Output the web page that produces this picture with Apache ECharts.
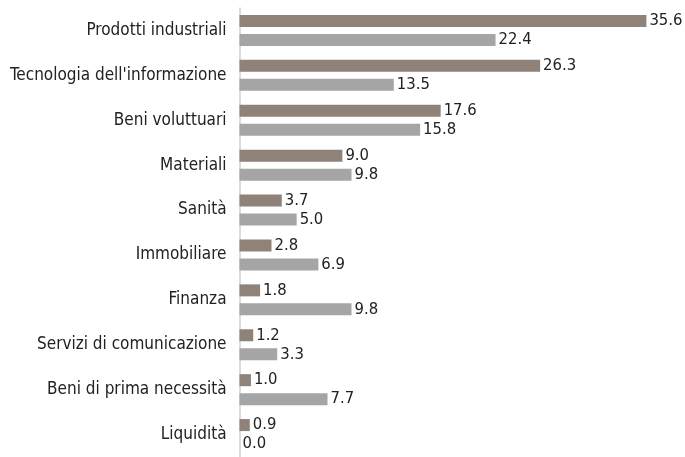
<!DOCTYPE html>
<html>
<head>
<meta charset="utf-8">
<script src="https://cdn.jsdelivr.net/npm/echarts@6/dist/echarts.min.js"></script>
<style>
html,body{margin:0;padding:0;background:#fff;}
#chart{width:685px;height:457px;}
</style>
</head>
<body>
<div id="chart"></div>
<script>
var categories = ["Prodotti industriali", "Tecnologia dell'informazione", "Beni voluttuari", "Materiali", "Sanità", "Immobiliare", "Finanza", "Servizi di comunicazione", "Beni di prima necessità", "Liquidità"];
var seriesA = [35.6, 26.3, 17.6, 9.0, 3.7, 2.8, 1.8, 1.2, 1.0, 0.9];
var seriesB = [22.4, 13.5, 15.8, 9.8, 5.0, 6.9, 9.8, 3.3, 7.7, 0.0];

var FONT = '"DejaVu Sans Condensed", "Liberation Sans Narrow", sans-serif';
var chart = echarts.init(document.getElementById('chart'), null, {renderer: 'canvas'});
function lbl() {
  return {
    show: true, position: 'right', distance: 3,
    fontFamily: FONT, fontSize: 16.5, color: '#222',
    formatter: function (p) { return Number(p.value).toFixed(1); }
  };
}
chart.setOption({
  animation: false,
  grid: {left: 239.5, top: 8, width: 411.5, height: 453, containLabel: false},
  xAxis: {
    type: 'value', min: 0, max: 36, show: false
  },
  yAxis: {
    type: 'category', data: categories, inverse: true,
    axisLine: {show: true, lineStyle: {color: '#d0d0d0', width: 1.5}},
    axisTick: {show: false},
    axisLabel: {fontFamily: FONT, fontSize: 17, color: '#222', margin: 13}
  },
  series: [
    {type: 'bar', data: seriesA, barWidth: 12, barGap: '58%', itemStyle: {color: '#8f8279'}, label: lbl()},
    {type: 'bar', data: seriesB, barWidth: 12, itemStyle: {color: '#a5a5a5'}, label: lbl()}
  ]
});
</script>
</body>
</html>
